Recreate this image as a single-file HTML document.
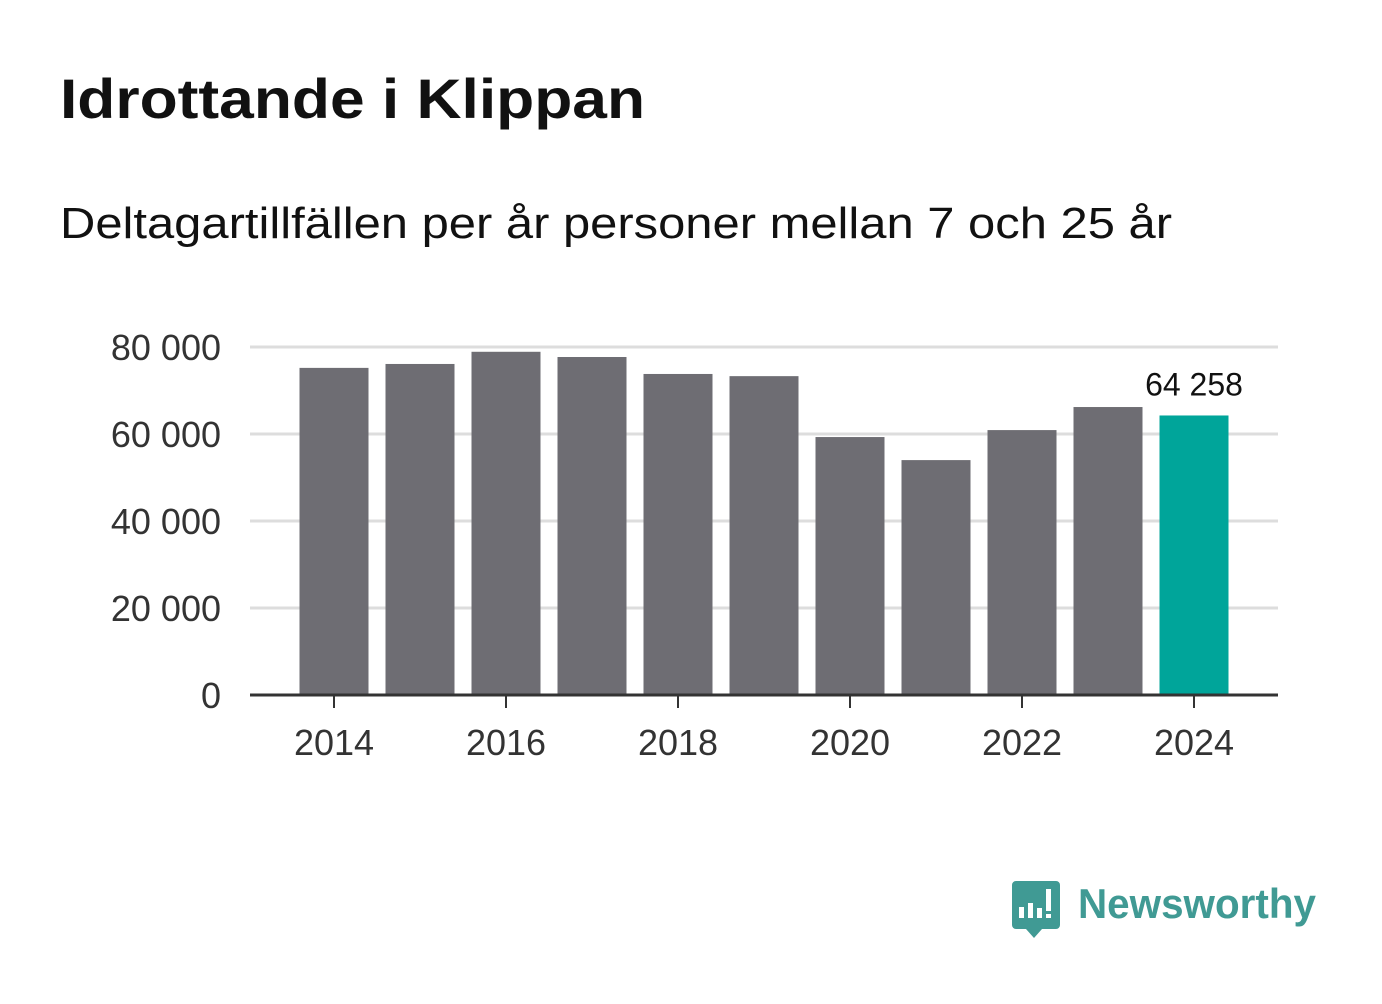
<!DOCTYPE html>
<html><head><meta charset="utf-8"><style>
body{margin:0;background:#fff;width:1382px;height:999px;overflow:hidden;font-family:"Liberation Sans","DejaVu Sans",sans-serif}
</style></head><body>
<svg width="1382" height="999" xmlns="http://www.w3.org/2000/svg">
<text x="60" y="118" font-size="56" font-weight="bold" fill="#111" textLength="585" lengthAdjust="spacingAndGlyphs">Idrottande i Klippan</text>
<text x="60" y="238" font-size="44" fill="#111" textLength="1112" lengthAdjust="spacingAndGlyphs">Deltagartillfällen per år personer mellan 7 och 25 år</text>
<g id="grid"></g><g id="bars"></g><g id="axes"></g>
<g>
<path d="M1016 881 h40 a4 4 0 0 1 4 4 v40 a4 4 0 0 1 -4 4 h-14 l-8 9 l-8 -9 h-10 a4 4 0 0 1 -4 -4 v-40 a4 4 0 0 1 4 -4z" fill="#409a94"/>
<rect x="1019" y="907" width="5" height="11" fill="#fff"/><rect x="1028" y="903" width="5" height="15" fill="#fff"/><rect x="1037" y="908" width="5" height="10" fill="#fff"/><rect x="1046" y="889" width="5" height="22" fill="#fff"/><rect x="1046" y="914" width="5" height="4" fill="#fff"/>
<text x="1078" y="918" font-size="42" font-weight="bold" fill="#409a94" textLength="238" lengthAdjust="spacingAndGlyphs">Newsworthy</text>
</g>
</svg>
<script>
const years=[2014,2015,2016,2017,2018,2019,2020,2021,2022,2023,2024];
const values=[75200,76100,78900,77700,73800,73300,59300,54000,60900,66200,64258];
const yTicks=[0,20000,40000,60000,80000];
const yTickLabels=["0","20 000","40 000","60 000","80 000"];
const xTickYears=[2014,2016,2018,2020,2022,2024];
const NS="http://www.w3.org/2000/svg";
const y=v=>695-v*348/80000;
const x=yr=>334+(yr-2014)*86;
function mk(t,a,p){const e=document.createElementNS(NS,t);for(const k in a)e.setAttribute(k,a[k]);document.getElementById(p).appendChild(e);return e;}
yTicks.forEach((t,i)=>{
 if(t>0){const g=mk('line',{x1:250,x2:1278,y1:y(t),y2:y(t),stroke:'#ddd','stroke-width':3},'grid');
 
 }
 const l=mk('text',{x:221,y:y(t)+13,'font-size':36,fill:'#333','text-anchor':'end'},'axes');l.textContent=yTickLabels[i];
 
 
});
years.forEach((yr,i)=>{
 const last=i===years.length-1;
 const b=mk('rect',{x:x(yr)-34.5,y:y(values[i]),width:69,height:695-y(values[i]),fill:last?'#00a59a':'#6e6d73'},'bars');
 
 
 if(last){const t=mk('text',{x:x(yr),y:y(values[i])-20,'font-size':32,fill:'#111','text-anchor':'middle'},'bars');
 t.textContent=values[i].toString().replace(/\B(?=(\d{3})+(?!\d))/g,' ');
 
 }
});
const ax=mk('line',{x1:250,x2:1278,y1:695,y2:695,stroke:'#333','stroke-width':3},'axes');


xTickYears.forEach(yr=>{
 const tk=mk('line',{x1:x(yr),x2:x(yr),y1:695,y2:708,stroke:'#333','stroke-width':2},'axes');
 
 
 const l=mk('text',{x:x(yr),y:755,'font-size':36,fill:'#333','text-anchor':'middle'},'axes');l.textContent=yr;
 
 
});
</script>
</body></html>
